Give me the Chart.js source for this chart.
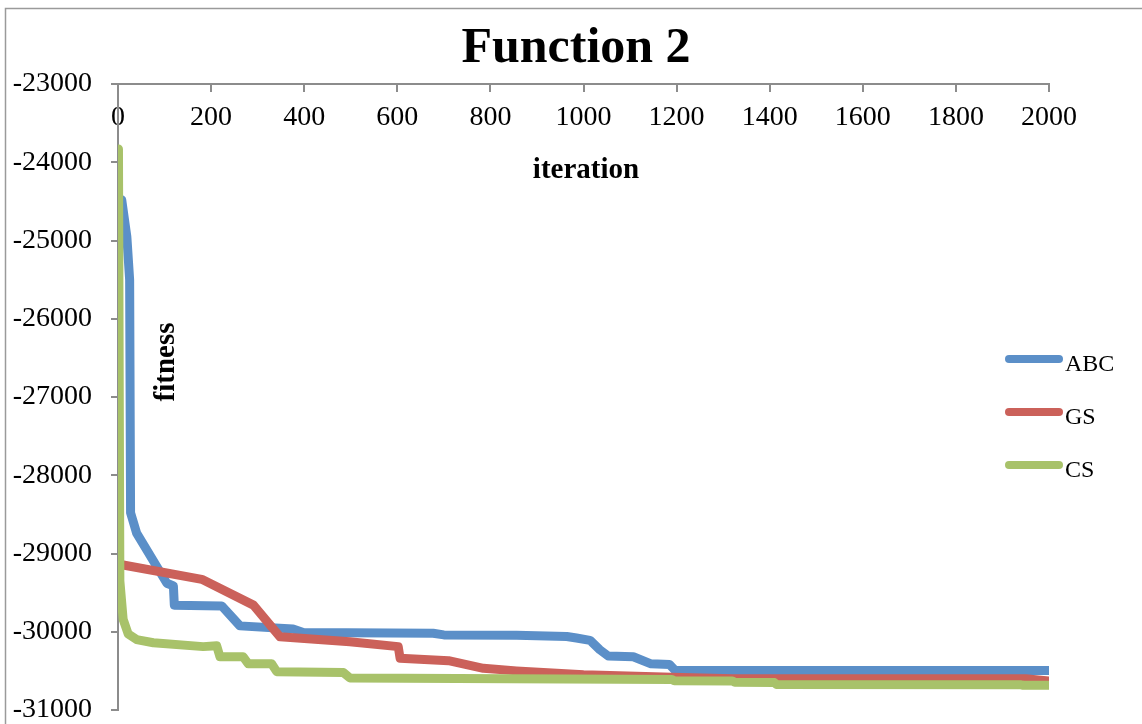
<!DOCTYPE html>
<html>
<head>
<meta charset="utf-8">
<script src="https://cdn.jsdelivr.net/npm/chart.js@4"></script>
<style>
  html, body { margin: 0; padding: 0; background: #fff; }
  #wrap { width: 1142px; height: 724px; }
</style>
</head>
<body>
<div id="wrap"><canvas id="chart" width="1142" height="724"></canvas></div>
<script>
// values
const xTicks = [0, 200, 400, 600, 800, 1000, 1200, 1400, 1600, 1800, 2000];
const yTicks = [-31000, -30000, -29000, -28000, -27000, -26000, -25000, -24000, -23000];

const abcIter = [8, 19, 25, 27, 31, 40, 105, 119, 121, 223, 262, 376, 398, 677, 700, 856, 964, 985, 1014, 1035, 1053, 1107, 1145, 1185, 1197, 2000];
const abcFitness = [-24480, -24950, -25500, -28480, -28560, -28740, -29380, -29415, -29660, -29670, -29925, -29965, -30010, -30020, -30040, -30045, -30060, -30080, -30110, -30230, -30310, -30320, -30410, -30420, -30495, -30495];

const gsIter = [1, 11, 180, 291, 348, 498, 602, 606, 710, 785, 856, 1000, 1190, 1320, 1950, 2000];
const gsFitness = [-29130, -29147, -29330, -29660, -30065, -30127, -30190, -30340, -30370, -30467, -30500, -30550, -30580, -30600, -30600, -30630];

const csIter = [1, 4, 11, 22, 40, 76, 183, 212, 219, 269, 280, 330, 341, 484, 498, 1190, 1195, 1320, 1325, 1410, 1415, 1940, 1945, 2000];
const csFitness = [-23830, -29350, -29840, -30030, -30100, -30140, -30190, -30180, -30320, -30320, -30410, -30410, -30510, -30520, -30590, -30610, -30625, -30630, -30645, -30650, -30675, -30678, -30685, -30685];

const seriesNames = ["ABC", "GS", "CS"];
const seriesColors = ["#5B8FC8", "#CB615A", "#A8C26A"];

function toPoints(xs, ys) {
  return xs.map((x, i) => ({ x: x, y: ys[i] }));
}

const axisGray = "#8c8c8c";
const serif = "'Liberation Serif', 'Times New Roman', serif";

// title, axis titles, legend and the outer frame
const decorPlugin = {
  id: "decor",
  beforeDraw(chart) {
    const ctx = chart.ctx;
    ctx.save();
    ctx.fillStyle = "#fff";
    ctx.fillRect(0, 0, chart.width, chart.height);
    ctx.strokeStyle = "#9a9a9a";
    ctx.lineWidth = 1.5;
    ctx.strokeRect(5.5, 8.5, chart.width + 20, chart.height + 20);
    ctx.restore();
  },
  afterDraw(chart) {
    const ctx = chart.ctx;
    ctx.save();
    ctx.fillStyle = "#000";

    ctx.font = "bold 50px " + serif;
    ctx.textAlign = "center";
    ctx.textBaseline = "alphabetic";
    ctx.fillText("Function 2", 576, 62);

    ctx.font = "bold 29px " + serif;
    ctx.textBaseline = "middle";
    ctx.fillText("iteration", 586, 171);

    ctx.translate(167, 362);
    ctx.rotate(-Math.PI / 2);
    ctx.fillText("fitness", 0, 0);
    ctx.setTransform(1, 0, 0, 1, 0, 0);

    // legend
    chart.data.datasets.forEach((ds, i) => {
      const y = 359 + i * 53;
      ctx.strokeStyle = ds.borderColor;
      ctx.lineWidth = 8;
      ctx.lineCap = "round";
      ctx.beginPath();
      ctx.moveTo(1009, y);
      ctx.lineTo(1059, y);
      ctx.stroke();
      ctx.fillStyle = "#000";
      ctx.font = "24px " + serif;
      ctx.textAlign = "left";
      ctx.textBaseline = "alphabetic";
      ctx.fillText(ds.label, 1065, y + 12);
    });
    ctx.restore();
  }
};

const chartData = {
  datasets: [
    { label: seriesNames[0], data: toPoints(abcIter, abcFitness), borderColor: seriesColors[0], order: 3 },
    { label: seriesNames[1], data: toPoints(gsIter, gsFitness), borderColor: seriesColors[1], order: 2 },
    { label: seriesNames[2], data: toPoints(csIter, csFitness), borderColor: seriesColors[2], order: 1 },
  ].map((ds) => Object.assign(ds, {
    backgroundColor: ds.borderColor,
    borderWidth: 9,
    borderJoinStyle: "round",
    borderCapStyle: "round",
    pointRadius: 0,
    tension: 0,
    fill: false,
  })),
};

const config = {
  type: "line",
  data: chartData,
  options: {
    responsive: false,
    animation: false,
    layout: { padding: { top: 84, right: 93, bottom: 14, left: 0 } },
    plugins: {
      legend: { display: false },
      title: { display: false },
      tooltip: { enabled: false },
    },
    scales: {
      x: {
        type: "linear",
        position: { y: -23000 },
        min: 0,
        max: 2000,
        afterBuildTicks: (s) => { s.ticks = xTicks.map((v) => ({ value: v })); },
        afterFit: (s) => { s.height = 0; },
        ticks: {
          autoSkip: false,
          maxRotation: 0,
          padding: 13,
          color: "#000",
          font: { family: serif, size: 28, lineHeight: 1 },
          callback: (v) => String(v),
        },
        grid: { drawOnChartArea: false, drawTicks: true, tickLength: 7, color: axisGray, lineWidth: 2 },
        border: { display: true, color: axisGray, width: 2 },
      },
      y: {
        type: "linear",
        position: "left",
        min: -31000,
        max: -23000,
        afterBuildTicks: (s) => { s.ticks = yTicks.map((v) => ({ value: v })); },
        afterFit: (s) => {
          s.width = 118;
          s.paddingTop = 0;
          s.paddingBottom = 0;
        },
        ticks: {
          padding: 19,
          color: "#000",
          font: { family: serif, size: 28, lineHeight: 1 },
          callback: (v) => String(v),
        },
        grid: { drawOnChartArea: false, drawTicks: true, tickLength: 7, color: axisGray, lineWidth: 2 },
        border: { display: true, color: axisGray, width: 2 },
      },
    },
  },
  plugins: [decorPlugin],
};

new Chart(document.getElementById("chart"), config);
</script>
</body>
</html>
